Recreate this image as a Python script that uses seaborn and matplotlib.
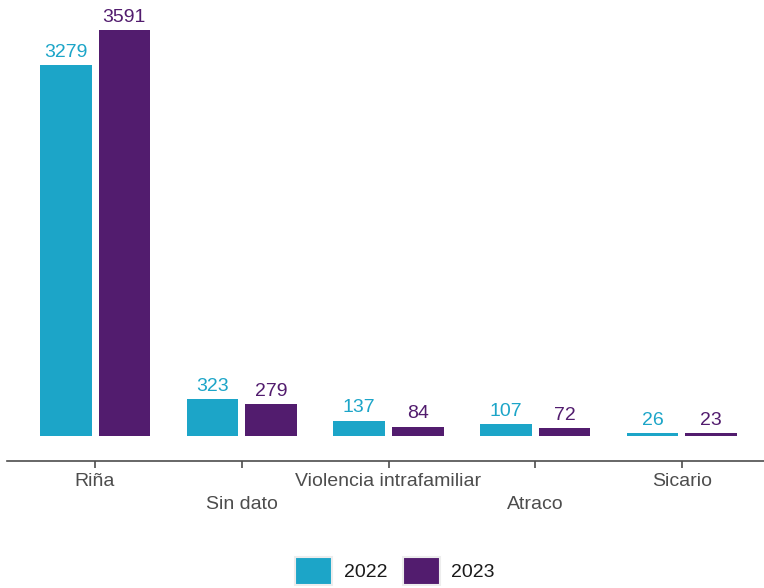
import matplotlib
matplotlib.use("Agg")
import matplotlib.pyplot as plt
from matplotlib.patches import Patch
import pandas as pd
import seaborn as sns

categories = ["Riña", "Sin dato", "Violencia intrafamiliar", "Atraco", "Sicario"]
years = ["2022", "2023"]
values_2022 = [3279, 323, 137, 107, 26]
values_2023 = [3591, 279, 84, 72, 23]
colors = ["#1ca5c8", "#521c6e"]

df = pd.DataFrame({
    "categoria": categories * 2,
    "anio": [years[0]] * len(categories) + [years[1]] * len(categories),
    "valor": values_2022 + values_2023,
})

sns.set_style("white")
plt.rcParams["font.family"] = ["Liberation Sans", "DejaVu Sans"]

fig = plt.figure(figsize=(7.64, 5.88), dpi=100)
ax = fig.add_axes([7 / 764, 127 / 588, 763 / 764, 461 / 588])

sns.barplot(
    data=df, x="categoria", y="valor", hue="anio",
    palette=colors, width=0.8, gap=0.12, saturation=1, linewidth=0, ax=ax,
)

for container, c in zip(ax.containers, colors):
    ax.bar_label(container, color=c, fontsize=14, padding=3)

ax.set_xlim(-0.6, 4.6)
ax.set_ylim(-221, 3856)
ax.set_xlabel("")
ax.set_ylabel("")
ax.set_yticks([])

# etiquetas alternadas en dos filas
tick_labels = [c if i % 2 == 0 else "\n" + c for i, c in enumerate(categories)]
ax.set_xticks(range(len(categories)))
ax.set_xticklabels(tick_labels, fontsize=14, color="#4d4d4d", linespacing=1.45)
ax.tick_params(axis="x", length=5, width=1.2, color="#4d4d4d", pad=4, bottom=True)

for side in ["top", "right", "left"]:
    ax.spines[side].set_visible(False)
ax.spines["bottom"].set_color("#4d4d4d")
ax.spines["bottom"].set_linewidth(1.2)

ax.legend_.remove()
handles = [Patch(facecolor=c, edgecolor="#ededed", linewidth=1.5) for c in colors]
fig.legend(
    handles, years, loc="center", bbox_to_anchor=(395 / 764, 1 - 571 / 588),
    ncol=2, frameon=False, fontsize=14, handlelength=1.9, handleheight=1.9,
    handletextpad=0.6, columnspacing=0.8, labelcolor="#1a1a1a",
)

fig.savefig("out.png", dpi=100)
plt.close()
